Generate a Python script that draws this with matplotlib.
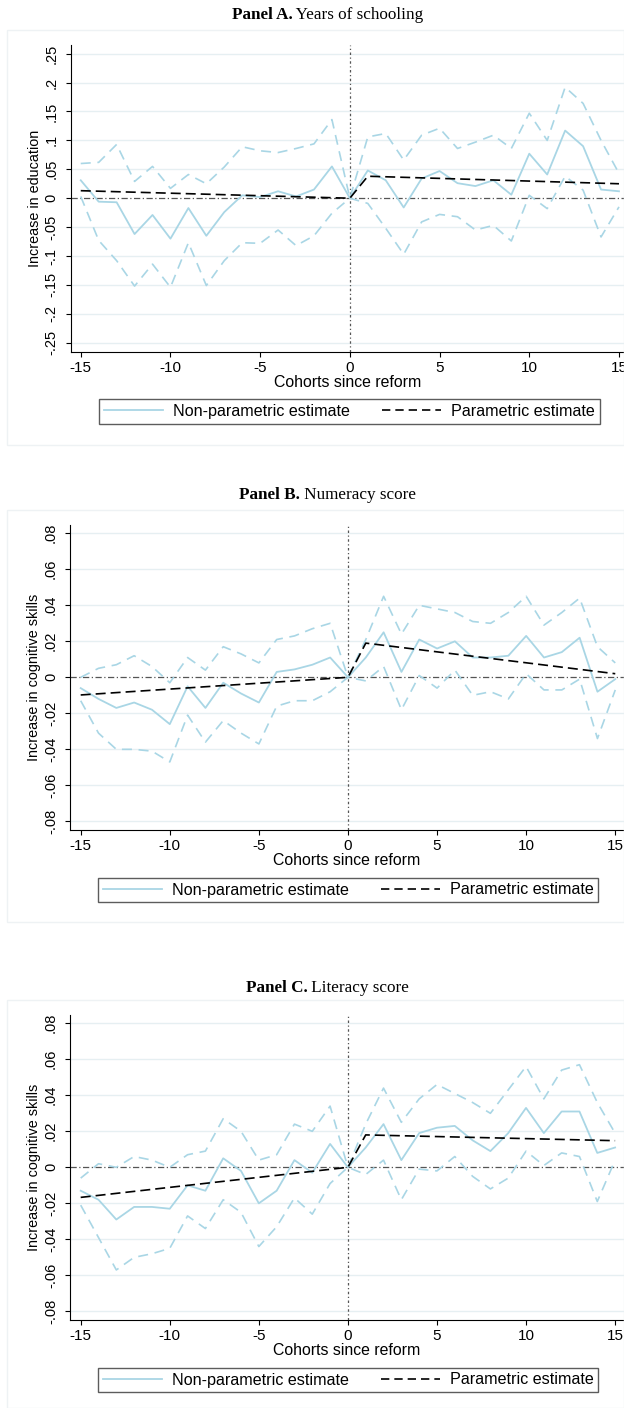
import matplotlib
matplotlib.use("Agg")
import matplotlib.pyplot as plt
from matplotlib.lines import Line2D
from matplotlib.patches import Rectangle

cohorts = list(range(-15, 16))

# Panel A: years of schooling
edu_est = [0.031, -0.006, -0.007, -0.062, -0.029, -0.070, -0.017, -0.065, -0.024, 0.005,
           0.002, 0.012, 0.003, 0.015, 0.055, 0.0, 0.048, 0.031, -0.016, 0.034,
           0.047, 0.026, 0.021, 0.031, 0.006, 0.077, 0.041, 0.117, 0.090, 0.015, 0.012]
edu_hi = [0.060, 0.062, 0.093, 0.029, 0.055, 0.017, 0.041, 0.025, 0.054, 0.089,
          0.082, 0.079, 0.086, 0.094, 0.136, 0.0, 0.106, 0.112, 0.066, 0.109,
          0.121, 0.086, 0.097, 0.109, 0.086, 0.147, 0.100, 0.192, 0.164, 0.100, 0.043]
edu_lo = [0.003, -0.073, -0.108, -0.152, -0.114, -0.154, -0.077, -0.151, -0.108, -0.077,
          -0.078, -0.055, -0.082, -0.065, -0.026, 0.0, -0.009, -0.052, -0.097, -0.041,
          -0.028, -0.032, -0.055, -0.047, -0.074, 0.005, -0.018, 0.038, 0.014, -0.067, -0.015]
edu_par_pre = (0.013, 0.0)     # value at -15 and at 0
edu_par_post = (0.038, 0.025)  # value at 1 and at 15

# Panel B: numeracy
num_est = [-0.006, -0.012, -0.017, -0.014, -0.018, -0.026, -0.005, -0.017, -0.003, -0.009,
           -0.014, 0.003, 0.0044, 0.007, 0.011, 0.0, 0.011, 0.025, 0.003, 0.021,
           0.016, 0.020, 0.011, 0.011, 0.012, 0.023, 0.011, 0.014, 0.022, -0.008, -0.001]
num_hi = [0.0, 0.005, 0.007, 0.012, 0.006, -0.003, 0.011, 0.004, 0.017, 0.013,
          0.008, 0.021, 0.023, 0.027, 0.030, 0.0, 0.021, 0.045, 0.024, 0.040,
          0.038, 0.036, 0.031, 0.030, 0.036, 0.045, 0.029, 0.036, 0.044, 0.017, 0.008]
num_lo = [-0.013, -0.031, -0.040, -0.040, -0.041, -0.047, -0.021, -0.036, -0.024, -0.031,
          -0.037, -0.016, -0.013, -0.013, -0.008, 0.0, -0.002, 0.006, -0.018, 0.001,
          -0.006, 0.004, -0.010, -0.008, -0.012, 0.002, -0.007, -0.007, -0.001, -0.034, -0.007]
num_par_pre = (-0.0098, 0.0)
num_par_post = (0.019, 0.002)

# Panel C: literacy
lit_est = [-0.013, -0.018, -0.029, -0.022, -0.022, -0.023, -0.010, -0.013, 0.005, -0.002,
           -0.020, -0.013, 0.004, -0.003, 0.013, 0.0, 0.011, 0.024, 0.004, 0.019,
           0.022, 0.023, 0.015, 0.009, 0.019, 0.033, 0.019, 0.031, 0.031, 0.008, 0.011]
lit_hi = [-0.006, 0.002, 0.0, 0.006, 0.004, 0.0, 0.007, 0.009, 0.027, 0.020,
          0.004, 0.007, 0.024, 0.020, 0.034, 0.0, 0.024, 0.044, 0.025, 0.038,
          0.046, 0.041, 0.036, 0.030, 0.043, 0.056, 0.038, 0.054, 0.057, 0.036, 0.019]
lit_lo = [-0.021, -0.039, -0.057, -0.050, -0.048, -0.045, -0.027, -0.034, -0.018, -0.025,
          -0.044, -0.033, -0.017, -0.026, -0.009, 0.0, -0.004, 0.004, -0.018, -0.001,
          -0.002, 0.006, -0.005, -0.012, -0.006, 0.009, 0.001, 0.008, 0.006, -0.019, 0.004]
lit_par_pre = (-0.0167, 0.0)
lit_par_post = (0.018, 0.0148)

edu_ticks = [-0.25, -0.2, -0.15, -0.1, -0.05, 0, 0.05, 0.1, 0.15, 0.2, 0.25]
edu_ticklabels = ["-.25", "-.2", "-.15", "-.1", "-.05", "0", ".05", ".1", ".15", ".2", ".25"]
skill_ticks = [-0.08, -0.06, -0.04, -0.02, 0, 0.02, 0.04, 0.06, 0.08]
skill_ticklabels = ["-.08", "-.06", "-.04", "-.02", "0", ".02", ".04", ".06", ".08"]
x_ticks = [-15, -10, -5, 0, 5, 10, 15]

W, H = 624, 1408
LBLUE = "#a9d6e5"
GRID = "#e6eff2"

plt.rcParams["font.family"] = ["Liberation Sans", "DejaVu Sans"]
fig = plt.figure(figsize=(W / 100, H / 100), dpi=100)


def fbox(left, top, right, bottom):
    return [left / W, 1 - bottom / H, (right - left) / W, (bottom - top) / H]


panels = [
    dict(title_b="Panel A.", title_r=" Years of schooling", ty=15,
         frame=(7, 30, 624, 445), box=(70.7, 45, 624, 352), xlim=(-15.56, 15.28),
         ylim=(-0.266, 0.265), ticks=edu_ticks, labels=edu_ticklabels,
         ylabel="Increase in education", est=edu_est, hi=edu_hi, lo=edu_lo,
         pre=edu_par_pre, post=edu_par_post, leg=(95, 398, 604, 425)),
    dict(title_b="Panel B.", title_r=" Numeracy score", ty=495,
         frame=(7, 510, 624, 922), box=(70, 525, 624, 830), xlim=(-15.6, 15.49),
         ylim=(-0.0848, 0.0846), ticks=skill_ticks, labels=skill_ticklabels,
         ylabel="Increase in cognitive skills", est=num_est, hi=num_hi, lo=num_lo,
         pre=num_par_pre, post=num_par_post, leg=(95, 877, 601, 903)),
    dict(title_b="Panel C.", title_r=" Literacy score", ty=988,
         frame=(7, 1000, 624, 1408), box=(70, 1015, 624, 1320), xlim=(-15.6, 15.5),
         ylim=(-0.0848, 0.0846), ticks=skill_ticks, labels=skill_ticklabels,
         ylabel="Increase in cognitive skills", est=lit_est, hi=lit_hi, lo=lit_lo,
         pre=lit_par_pre, post=lit_par_post, leg=(95, 1367, 601, 1393)),
]

for p in panels:
    # light outer graph region
    fl, ft, fr, fb = p["frame"]
    fig.patches.append(Rectangle((fl / W, 1 - fb / H), (fr - fl) / W, (fb - ft) / H,
                                 transform=fig.transFigure, fill=False,
                                 edgecolor="#eef2f4", lw=1.0))

    ax = fig.add_axes(fbox(*p["box"]))
    for y in p["ticks"]:
        if y != 0:
            ax.axhline(y, color=GRID, lw=1.0, zorder=0)
    ax.axhline(0, color="#555555", lw=0.9, ls=(0, (5, 2, 1, 2)), zorder=1)
    ax.axvline(0, color="#555555", lw=0.9, ls=(0, (2, 2, 1, 2)), zorder=1)

    ax.plot(cohorts, p["hi"], color=LBLUE, lw=1.2, ls=(0, (6, 4)), zorder=2)
    ax.plot(cohorts, p["lo"], color=LBLUE, lw=1.2, ls=(0, (6, 4)), zorder=2)
    ax.plot(cohorts, p["est"], color=LBLUE, lw=1.3, zorder=3)
    par_x = [-15, 0, 1, 15]
    par_y = [p["pre"][0], p["pre"][1], p["post"][0], p["post"][1]]
    ax.plot(par_x, par_y, color="black", lw=1.2, ls=(0, (6, 3)), zorder=4)

    ax.set_xlim(*p["xlim"])
    ax.set_ylim(*p["ylim"])
    ax.set_xticks(x_ticks)
    ax.set_xticklabels([str(t) for t in x_ticks], fontsize=11)
    ax.set_yticks(p["ticks"])
    ax.set_yticklabels(p["labels"], rotation=90, va="center", fontsize=10.5)
    ax.spines["top"].set_visible(False)
    ax.spines["right"].set_visible(False)
    ax.tick_params(length=3.6, width=0.8)
    ax.tick_params(axis="x", pad=3)
    ax.tick_params(axis="y", pad=5)
    ax.set_xlabel("Cohorts since reform", fontsize=11.4, labelpad=0)
    ax.set_ylabel(p["ylabel"], fontsize=10.4, labelpad=2)

    # title: bold prefix + regular rest, Times-like
    t1 = fig.text(0, 0, p["title_b"], fontsize=12.3, fontweight="bold",
                  family="Liberation Serif")
    t2 = fig.text(0, 0, p["title_r"], fontsize=12.3, family="Liberation Serif")
    fig.canvas.draw()
    r = fig.canvas.get_renderer()
    w1 = t1.get_window_extent(r).width
    w2 = t2.get_window_extent(r).width
    x0 = (327.5 - (w1 + w2) / 2)
    t1.set_position((x0 / W, 1 - p["ty"] / H))
    t2.set_position(((x0 + w1) / W, 1 - p["ty"] / H))
    t1.set_va("center")
    t2.set_va("center")

    ll, lt, lr, lb = p["leg"]
    handles = [Line2D([], [], color=LBLUE, lw=1.3),
               Line2D([], [], color="black", lw=1.2, ls=(0, (5, 3)))]
    leg = fig.legend(handles, ["Non-parametric estimate", "Parametric estimate"],
                     loc="center", bbox_to_anchor=((ll + lr) / 2 / W, 1 - (lt + lb) / 2 / H),
                     ncol=2, fontsize=11.6, frameon=True, fancybox=False,
                     edgecolor="#333333", handlelength=3.66, columnspacing=2.0,
                     borderpad=0.3, borderaxespad=0, handletextpad=0.62)
    leg.get_frame().set_linewidth(1.0)

fig.savefig("out.png", dpi=100)
